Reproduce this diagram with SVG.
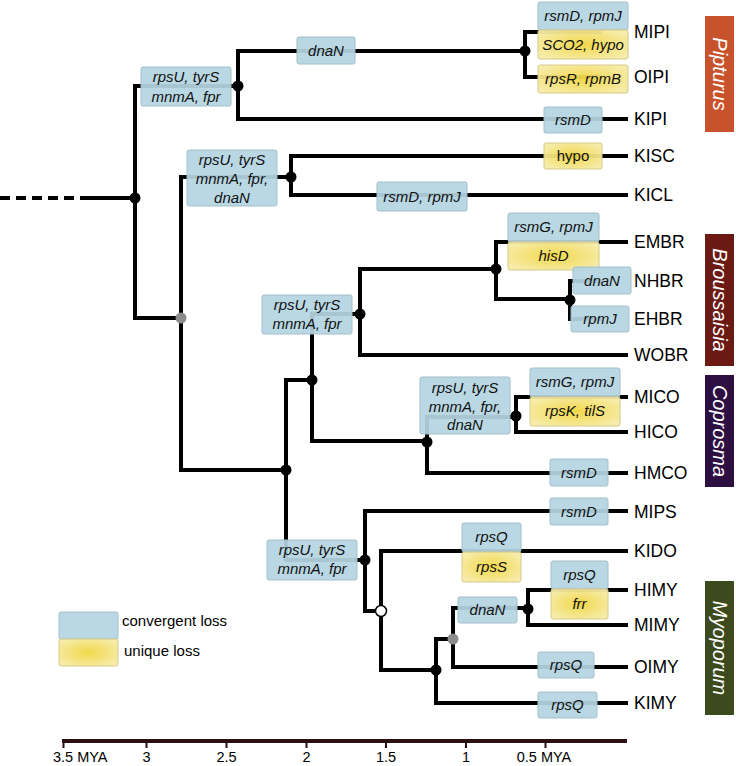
<svg xmlns="http://www.w3.org/2000/svg" width="736" height="766" viewBox="0 0 736 766">
<defs>
<radialGradient id="yg" cx="50%" cy="50%" r="60%">
<stop offset="0" stop-color="#f0d640"/>
<stop offset="1" stop-color="#f6eba6"/>
</radialGradient>
<style>
.br{fill:none;stroke:#000;stroke-width:4;stroke-linecap:square;stroke-linejoin:miter}
.bl{fill:#b4d5e2;stroke:#a2bfcb;stroke-width:1;fill-opacity:0.93}
.ye{fill:url(#yg);stroke:#d6c98a;stroke-width:1;fill-opacity:0.95}
.gt{font-family:"Liberation Sans",Arial,sans-serif;font-size:15px;font-style:italic;fill:#111;text-anchor:middle}
.up{font-style:normal}
.tx{font-family:"Liberation Sans",Arial,sans-serif;font-size:17.5px;fill:#000}
.cl{font-family:"Liberation Sans",Arial,sans-serif;font-size:20px;font-style:italic;fill:#fff;text-anchor:middle}
.nd{fill:#000}
.gn{fill:#8c8c8c}
.lg{font-family:"Liberation Sans",Arial,sans-serif;font-size:15px;fill:#000}
.ax{font-family:"Liberation Sans",Arial,sans-serif;font-size:14.5px;fill:#000;text-anchor:middle}
</style>
</defs>
<rect width="736" height="766" fill="#fff"/>

<g id="connectors">
<path d="M0,198 H92" class="br" stroke-dasharray="10,6" style="stroke-linecap:butt"/>
<path class="br" d="M90,198 H135 M135,86 V318 M135,86 H238 M238,51 V119 M238,51 H525 M238,119 H626
M525,32 V77 M525,32 H600 M525,77 H600
M135,318 H181 M181,177 V470 M181,177 H291 M291,156 V195 M291,156 H626 M291,195 H626
M181,470 H286 M286,380 V560 M286,380 H312 M312,314 V441 M312,314 H360 M360,269 V355 M360,269 H496
M496,242 V299 M496,242 H626 M496,299 H570 M570,281 V319 M570,281 H600 M570,319 H600 M360,355 H626
M312,441 H427 M427,417 V473 M427,417 H516 M516,397 V432 M516,397 H626 M516,432 H626 M427,473 H626
M286,560 H365 M365,511 V611 M365,511 H626 M365,611 H381 M381,551 V670 M381,551 H626
M381,670 H436 M436,639 V703 M436,639 H453 M453,608 V667 M453,608 H528 M528,590 V625 M528,590 H626 M528,625 H626
M453,667 H626 M436,703 H626"/>
</g>

<g id="box-b1"><rect class="bl" x="141" y="67" width="90" height="39" rx="2"/><text class="gt" x="186" y="82">rpsU, tyrS</text><text class="gt" x="186" y="102">mnmA, fpr</text></g>
<g id="box-b2"><rect class="bl" x="297" y="37" width="58" height="27" rx="2"/><text class="gt" x="326" y="56">dnaN</text></g>
<g id="box-mipi"><rect class="bl" x="538" y="2" width="90" height="28" rx="2"/><text class="gt" x="583" y="21">rsmD, rpmJ</text><rect class="ye" x="538" y="30" width="90" height="29" rx="2"/><text class="gt" x="583" y="50">SCO2, hypo</text></g>
<g id="box-oipi"><rect class="ye" x="538" y="65" width="90" height="28" rx="2"/><text class="gt" x="583" y="84">rpsR, rpmB</text></g>
<g id="box-kipi"><rect class="bl" x="544" y="107" width="58" height="26" rx="2"/><text class="gt" x="573" y="125">rsmD</text></g>
<g id="box-kisc"><rect class="ye" x="544" y="143" width="58" height="26" rx="2"/><text class="gt up" x="573" y="161">hypo</text></g>
<g id="box-b3"><rect class="bl" x="187" y="150" width="90" height="56" rx="2"/><text class="gt" x="232" y="165">rpsU, tyrS</text><text class="gt" x="232" y="184">mnmA, fpr,</text><text class="gt" x="232" y="203">dnaN</text></g>
<g id="box-kicl"><rect class="bl" x="377" y="182" width="90" height="29" rx="2"/><text class="gt" x="422" y="202">rsmD, rpmJ</text></g>
<g id="box-embr"><rect class="bl" x="508" y="213" width="91" height="29" rx="2"/><text class="gt" x="553.5" y="232">rsmG, rpmJ</text><rect class="ye" x="508" y="242" width="91" height="28" rx="2"/><text class="gt" x="553.5" y="261">hisD</text></g>
<g id="box-nhbr"><rect class="bl" x="573" y="267" width="58" height="27" rx="2"/><text class="gt" x="602" y="286">dnaN</text></g>
<g id="box-ehbr"><rect class="bl" x="571" y="306" width="58" height="26" rx="2"/><text class="gt" x="600" y="324">rpmJ</text></g>
<g id="box-b4"><rect class="bl" x="262" y="295" width="90" height="39" rx="2"/><text class="gt" x="307" y="310">rpsU, tyrS</text><text class="gt" x="307" y="329">mnmA, fpr</text></g>
<g id="box-b5"><rect class="bl" x="420" y="377" width="90" height="57" rx="2"/><text class="gt" x="465" y="393">rpsU, tyrS</text><text class="gt" x="465" y="412">mnmA, fpr,</text><text class="gt" x="465" y="430">dnaN</text></g>
<g id="box-mico"><rect class="bl" x="530" y="368" width="90" height="29" rx="2"/><text class="gt" x="575" y="387">rsmG, rpmJ</text><rect class="ye" x="530" y="397" width="90" height="29" rx="2"/><text class="gt" x="575" y="416">rpsK, tilS</text></g>
<g id="box-hmco"><rect class="bl" x="550" y="459" width="58" height="27" rx="2"/><text class="gt" x="579" y="478">rsmD</text></g>
<g id="box-b6"><rect class="bl" x="267" y="540" width="90" height="40" rx="2"/><text class="gt" x="312" y="555">rpsU, tyrS</text><text class="gt" x="312" y="574">mnmA, fpr</text></g>
<g id="box-mips"><rect class="bl" x="550" y="498" width="58" height="27" rx="2"/><text class="gt" x="579" y="517">rsmD</text></g>
<g id="box-kido"><rect class="bl" x="462" y="523" width="59" height="29" rx="2"/><text class="gt" x="491.5" y="542">rpsQ</text><rect class="ye" x="462" y="552" width="59" height="30" rx="2"/><text class="gt" x="491.5" y="572">rpsS</text></g>
<g id="box-b7"><rect class="bl" x="458" y="597" width="59" height="26" rx="2"/><text class="gt" x="487.5" y="615">dnaN</text></g>
<g id="box-himy"><rect class="bl" x="551" y="561" width="57" height="28" rx="2"/><text class="gt" x="579.5" y="580">rpsQ</text><rect class="ye" x="551" y="589" width="57" height="30" rx="2"/><text class="gt" x="579.5" y="609">frr</text></g>
<g id="box-oimy"><rect class="bl" x="538" y="652" width="56" height="26" rx="2"/><text class="gt" x="566" y="670">rpsQ</text></g>
<g id="box-kimy"><rect class="bl" x="538" y="692" width="59" height="26" rx="2"/><text class="gt" x="567.5" y="710">rpsQ</text></g>

<g id="node-root"><circle class="nd" cx="135" cy="198" r="5.5"/></g>
<g id="node-pip"><circle class="nd" cx="238" cy="86" r="5.5"/></g>
<g id="node-mipi-oipi"><circle class="nd" cx="525" cy="51" r="5.5"/></g>
<g id="node-grey1"><circle class="gn" cx="181" cy="318" r="5.5"/></g>
<g id="node-kisc-kicl"><circle class="nd" cx="291" cy="177" r="5.5"/></g>
<g id="node-bcm"><circle class="nd" cx="286" cy="470" r="5.5"/></g>
<g id="node-bc"><circle class="nd" cx="312" cy="380" r="5.5"/></g>
<g id="node-brous"><circle class="nd" cx="360" cy="314" r="5.5"/></g>
<g id="node-embr"><circle class="nd" cx="496" cy="269" r="5.5"/></g>
<g id="node-nhbr"><circle class="nd" cx="570" cy="300" r="5.5"/></g>
<g id="node-copro"><circle class="nd" cx="427" cy="442" r="5.5"/></g>
<g id="node-mico"><circle class="nd" cx="516" cy="416" r="5.5"/></g>
<g id="node-myo"><circle class="nd" cx="365" cy="560" r="5.5"/></g>
<g id="node-white"><circle cx="381" cy="611" r="5.5" fill="#fff" stroke="#000" stroke-width="1.5"/></g>
<g id="node-myo2"><circle class="nd" cx="436" cy="670" r="5.5"/></g>
<g id="node-grey2"><circle class="gn" cx="453" cy="639" r="5.5"/></g>
<g id="node-himy"><circle class="nd" cx="528" cy="609" r="5.5"/></g>

<g id="taxa">
<text class="tx" x="634" y="38">MIPI</text>
<text class="tx" x="634" y="83">OIPI</text>
<text class="tx" x="634" y="125">KIPI</text>
<text class="tx" x="634" y="162">KISC</text>
<text class="tx" x="634" y="201">KICL</text>
<text class="tx" x="634" y="248">EMBR</text>
<text class="tx" x="634" y="287">NHBR</text>
<text class="tx" x="634" y="325">EHBR</text>
<text class="tx" x="634" y="361">WOBR</text>
<text class="tx" x="634" y="403">MICO</text>
<text class="tx" x="634" y="438">HICO</text>
<text class="tx" x="634" y="479">HMCO</text>
<text class="tx" x="634" y="518">MIPS</text>
<text class="tx" x="634" y="557">KIDO</text>
<text class="tx" x="634" y="596">HIMY</text>
<text class="tx" x="634" y="631">MIMY</text>
<text class="tx" x="634" y="673">OIMY</text>
<text class="tx" x="634" y="709">KIMY</text>
</g>

<g id="clade-pipturus"><rect x="705" y="16" width="29" height="116" fill="#c8522b"/><text class="cl" transform="translate(719.5,74) rotate(90)" x="0" y="7">Pipturus</text></g>
<g id="clade-broussaisia"><rect x="705" y="234" width="29" height="132" fill="#6a1a13"/><text class="cl" transform="translate(719.5,300) rotate(90)" x="0" y="7">Broussaisia</text></g>
<g id="clade-coprosma"><rect x="705" y="375" width="29" height="112" fill="#2e0f42"/><text class="cl" transform="translate(719.5,431) rotate(90)" x="0" y="7">Coprosma</text></g>
<g id="clade-myoporum"><rect x="705" y="581" width="29" height="134" fill="#3c4a1d"/><text class="cl" transform="translate(719.5,648) rotate(90)" x="0" y="7">Myoporum</text></g>

<g id="legend">
<rect class="bl" x="59" y="612" width="59" height="27" rx="2"/>
<rect class="ye" x="59" y="639" width="59" height="27" rx="2"/>
<text class="lg" x="122" y="626">convergent loss</text>
<text class="lg" x="124" y="656">unique loss</text>
</g>

<g id="axis">
<path d="M62,741 H627" stroke="#2a1010" stroke-width="4" fill="none"/>
<path d="M63.5,741 V748 M146.5,741 V748 M226.5,741 V748 M306.5,741 V748 M386,741 V748 M466,741 V748 M545.5,741 V748" stroke="#2a1010" stroke-width="2" fill="none"/>
<text class="ax" x="53" y="762" style="text-anchor:start">3.5 MYA</text>
<text class="ax" x="146.5" y="762">3</text>
<text class="ax" x="226.5" y="762">2.5</text>
<text class="ax" x="306.5" y="762">2</text>
<text class="ax" x="386" y="762">1.5</text>
<text class="ax" x="466" y="762">1</text>
<text class="ax" x="544" y="762">0.5 MYA</text>
</g>
</svg>
